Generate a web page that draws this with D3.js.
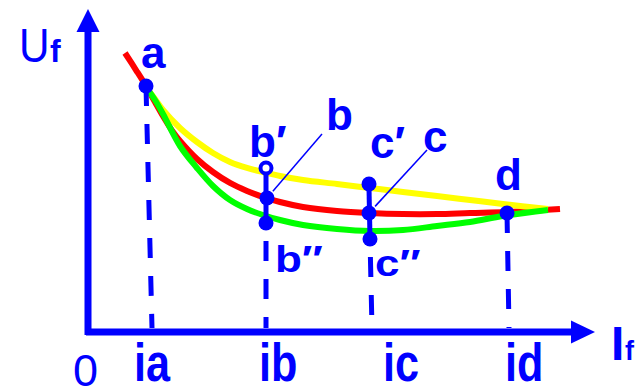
<!DOCTYPE html>
<html>
<head>
<meta charset="utf-8">
<script src="https://cdn.jsdelivr.net/npm/d3@7"></script>
<style>
  html, body { margin: 0; padding: 0; background: #fff; }
  svg { display: block; }
  text { font-family: "Liberation Sans", Arial, sans-serif; fill: #0000ff; }
</style>
</head>
<body>
<svg id="chart" width="644" height="389"></svg>
<script>
// ---- data (abstract units: I on x, U on y) ----
const redI    = [7.4, 9.6, 11.6, 13.4, 15, 17, 18.4, 21.8, 25, 28.4, 31.8, 35, 38.4, 43, 49.8, 56.4, 63, 69.8, 76.4, 83.8, 94.4];
const redU    = [93, 87.33, 82, 76.67, 72, 66.67, 63.67, 57.67, 53.33, 49.67, 47, 45, 43.33, 41.67, 40.33, 39.67, 39.33, 39.33, 39.67, 40, 41];
const yellowI = [11.6, 13.4, 15, 18.4, 21.8, 25, 28.4, 31.8, 35, 38.4, 43, 49.8, 56.4, 63, 69.8, 76.4, 83, 92];
const yellowU = [81.67, 77.67, 74, 68, 63.33, 59.67, 56.67, 54.67, 53.33, 52, 50.67, 49.33, 48, 46.67, 45.33, 44, 42.67, 41];
const greenI  = [11.6, 13.4, 15, 18.4, 21.8, 25, 28.4, 31.8, 35, 38.4, 43, 49.8, 56.4, 63, 69.8, 76.4, 83, 92];
const greenU  = [81.67, 77.33, 72.67, 62, 54.67, 48.67, 44, 41, 39, 37.33, 35.67, 34.33, 33.67, 34, 35.33, 36.67, 38.67, 40.67];

const pointNames = ["a", "b", "b′", "b″", "c", "c′", "c″", "d"];
const pointI     = [11.6, 35.8, 35.6, 35.6, 56.2, 56.2, 56.4, 83.8];
const pointU     = [82, 44.67, 54.67, 36.33, 39.67, 49.33, 31, 39.67];

const tickLabels = ["ia", "ib", "ic", "id"];
const tickI      = [12.8, 35.6, 56.8, 84.2];
const dropFrom   = ["a", "b″", "c″", "d"];

// ---- scales ----
const svg = d3.select("#chart");
const x = d3.scaleLinear().domain([0, 100]).range([88, 588]);
const y = d3.scaleLinear().domain([0, 100]).range([332, 32]);
const BLUE = "#0000ff";

const line = d3.line().x(d => x(d[0])).y(d => y(d[1])).curve(d3.curveCatmullRom.alpha(0.5));
const zip = (a, b) => a.map((v, i) => [v, b[i]]);
const pt = name => { const i = pointNames.indexOf(name); return [pointI[i], pointU[i]]; };

// curves
[[redI, redU, "#ff0000"], [yellowI, yellowU, "#ffff00"], [greenI, greenU, "#00ff00"]].forEach(([xi, yu, col]) => {
  svg.append("path").attr("d", line(zip(xi, yu)))
    .attr("fill", "none").attr("stroke", col).attr("stroke-width", 6);
});

// dashed drops to the I axis
const dashOffsets = [0, 20, 20, 0];
dropFrom.forEach((n, i) => {
  const p = pt(n);
  svg.append("line")
    .attr("x1", x(p[0])).attr("y1", y(p[1]))
    .attr("x2", x(tickI[i])).attr("y2", y(0) - 4)
    .attr("stroke", BLUE).attr("stroke-width", 5)
    .attr("stroke-dasharray", "20 18").attr("stroke-dashoffset", dashOffsets[i]);
});

// vertical connectors b'-b'' and c'-c''
[["b′", "b″"], ["c′", "c″"]].forEach(([t, b]) => {
  const p1 = pt(t), p2 = pt(b);
  svg.append("line")
    .attr("x1", x(p1[0])).attr("y1", y(p1[1]) + 4)
    .attr("x2", x(p2[0])).attr("y2", y(p2[1]))
    .attr("stroke", BLUE).attr("stroke-width", 5);
});

// leader lines
[[[322, 134], "b"], [[427, 150], "c"]].forEach(([from, n]) => {
  const p = pt(n);
  const dx = x(p[0]) - from[0], dy = y(p[1]) - from[1];
  const L = Math.hypot(dx, dy);
  svg.append("line")
    .attr("x1", from[0]).attr("y1", from[1])
    .attr("x2", x(p[0]) - dx / L * 9).attr("y2", y(p[1]) - dy / L * 9)
    .attr("stroke", BLUE).attr("stroke-width", 1.5);
});

// markers
pointNames.forEach((n, i) => {
  const c = svg.append("circle").attr("cx", x(pointI[i])).attr("cy", y(pointU[i]));
  if (n === "b′") c.attr("r", 5.5).attr("fill", "#fff").attr("stroke", BLUE).attr("stroke-width", 4);
  else c.attr("r", 7.5).attr("fill", BLUE);
});

// axes
svg.append("line").attr("x1", x(0)).attr("y1", y(0) + 3).attr("x2", x(0)).attr("y2", 30)
  .attr("stroke", BLUE).attr("stroke-width", 7);
svg.append("path").attr("d", `M${x(0)},9 L${x(0) + 11.5},32 L${x(0) - 11.5},32 Z`).attr("fill", BLUE);
svg.append("line").attr("x1", x(0) - 2).attr("y1", y(0)).attr("x2", 573).attr("y2", y(0))
  .attr("stroke", BLUE).attr("stroke-width", 7);
svg.append("path").attr("d", `M595,${y(0)} L571,${y(0) - 11.5} L571,${y(0) + 11.5} Z`).attr("fill", BLUE);

// text
function label(txt, px, py, size, weight, sx = 1, sy = 1) {
  svg.append("text")
    .attr("transform", `translate(${px},${py}) scale(${sx},${sy})`)
    .attr("font-size", size).attr("font-weight", weight).text(txt);
}
label("U", 19, 62, 48, "normal", 0.88, 1);
label("f", 50, 62, 32, "bold");
label("I", 611, 360, 48, "bold");
label("f", 625, 360, 27, "bold");
label("0", 73, 386, 45, "normal");

const ptLabelPos = { "a": [141, 68], "b": [326, 130], "c": [423, 152], "d": [495, 190], "b′": [249, 157], "c′": [370, 158] };
Object.entries(ptLabelPos).forEach(([n, p]) => label(n, p[0], p[1], 44, "bold"));
label("b″", 275, 272, 44, "bold", 1, 0.85);
label("c″", 375, 276, 44, "bold", 1, 0.85);

const tickLabelX = [134, 259, 383, 505];
tickLabels.forEach((t, i) => label(t, tickLabelX[i], 381, 48, "bold", 0.9, 1.1));
</script>
</body>
</html>
